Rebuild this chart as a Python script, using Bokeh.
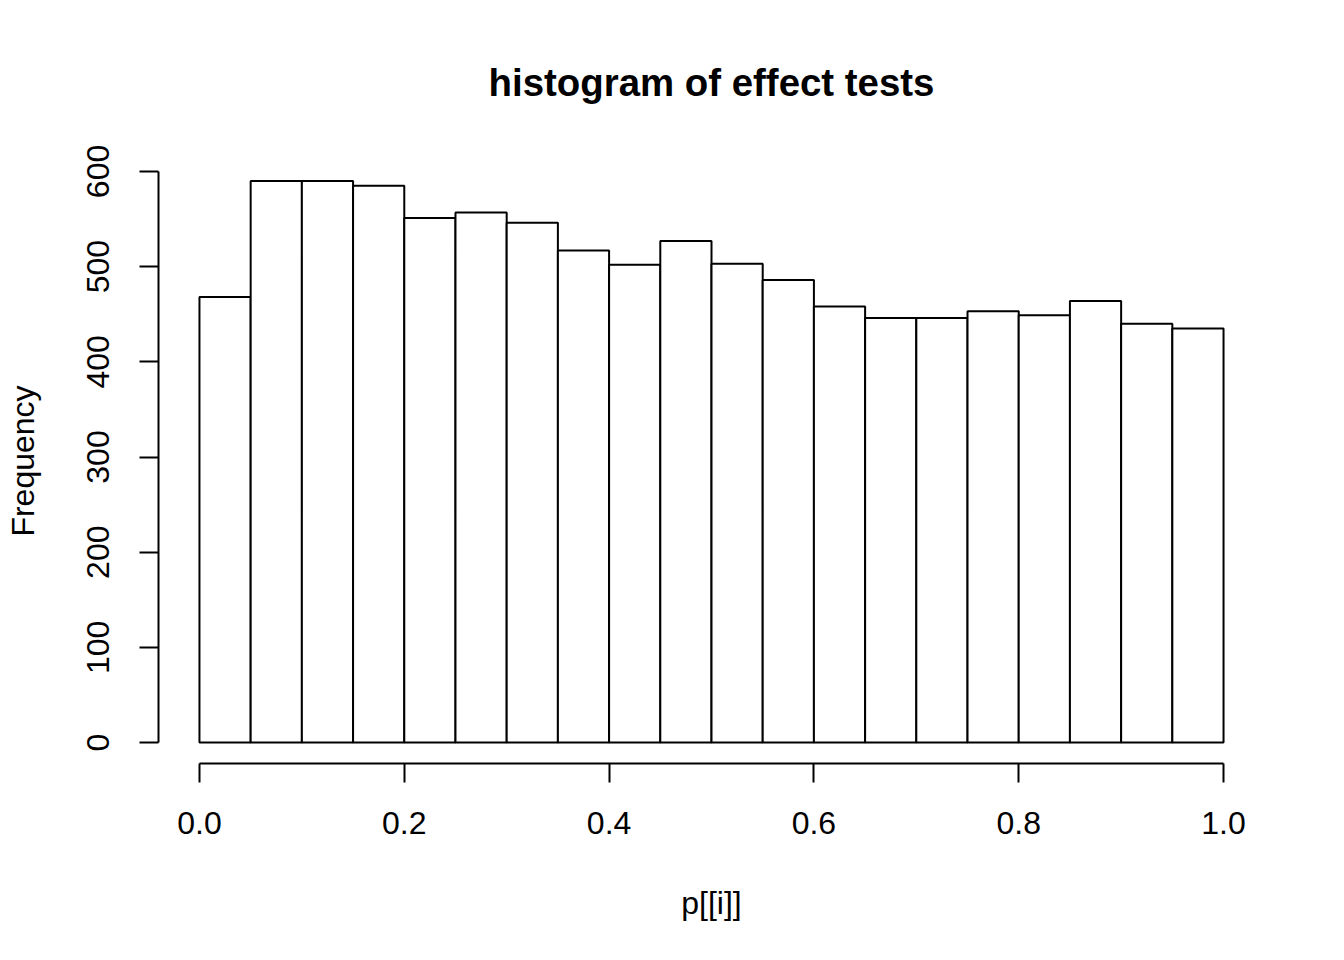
from bokeh.plotting import figure
from bokeh.models import Range1d, FixedTicker, NumeralTickFormatter
from bokeh.embed import file_html
from bokeh.resources import INLINE

# Data: histogram bins (width 0.05) and counts
bin_left = [0.00, 0.05, 0.10, 0.15, 0.20, 0.25, 0.30, 0.35, 0.40, 0.45,
            0.50, 0.55, 0.60, 0.65, 0.70, 0.75, 0.80, 0.85, 0.90, 0.95]
bin_right = [0.05, 0.10, 0.15, 0.20, 0.25, 0.30, 0.35, 0.40, 0.45, 0.50,
             0.55, 0.60, 0.65, 0.70, 0.75, 0.80, 0.85, 0.90, 0.95, 1.00]
counts = [468, 590, 590, 585, 551, 557, 546, 517, 502, 527,
          503, 486, 458, 446, 446, 453, 449, 464, 440, 435]
x_ticks = [0.0, 0.2, 0.4, 0.6, 0.8, 1.0]
y_ticks = [0, 100, 200, 300, 400, 500, 600]

FONT = "Liberation Sans"

p = figure(width=1328, height=944, output_backend="svg", toolbar_location=None,
           x_range=Range1d(-0.04, 1.04), y_range=Range1d(-22.0, 613.6),
           min_border_left=158, min_border_right=64, min_border_top=158, min_border_bottom=181,
           title="histogram of effect tests")

p.quad(left=bin_left, right=bin_right, bottom=0, top=counts,
       fill_color="white", line_color="black", line_width=2)

p.grid.visible = False
p.outline_line_color = None
p.background_fill_color = "white"
p.border_fill_color = "white"

p.title.align = "center"
p.title.text_font = FONT
p.title.text_font_size = "38.4px"
p.title.text_font_style = "bold"
p.title.text_color = "black"
p.title.standoff = 109

for ax in (p.xaxis[0], p.yaxis[0]):
    ax.axis_line_width = 2
    ax.axis_line_color = "black"
    ax.major_tick_line_width = 2
    ax.major_tick_line_color = "black"
    ax.major_tick_out = 19
    ax.major_tick_in = 0
    ax.minor_tick_out = 0
    ax.minor_tick_in = 0
    ax.major_label_text_font = FONT
    ax.major_label_text_font_size = "32px"
    ax.major_label_text_color = "black"
    ax.axis_label_text_font = FONT
    ax.axis_label_text_font_size = "32px"
    ax.axis_label_text_font_style = "normal"
    ax.axis_label_text_color = "black"

xa = p.xaxis[0]
xa.ticker = FixedTicker(ticks=x_ticks)
xa.formatter = NumeralTickFormatter(format="0.0")
xa.bounds = (0, 1)
xa.axis_label = "p[[i]]"
xa.major_label_standoff = 29
xa.axis_label_standoff = 48

ya = p.yaxis[0]
ya.ticker = FixedTicker(ticks=y_ticks)
ya.bounds = (0, 600)
ya.axis_label = "Frequency"
ya.major_label_orientation = "vertical"
ya.major_label_standoff = 30
ya.axis_label_standoff = 44

open("out.html", "w").write(file_html(p, INLINE))
